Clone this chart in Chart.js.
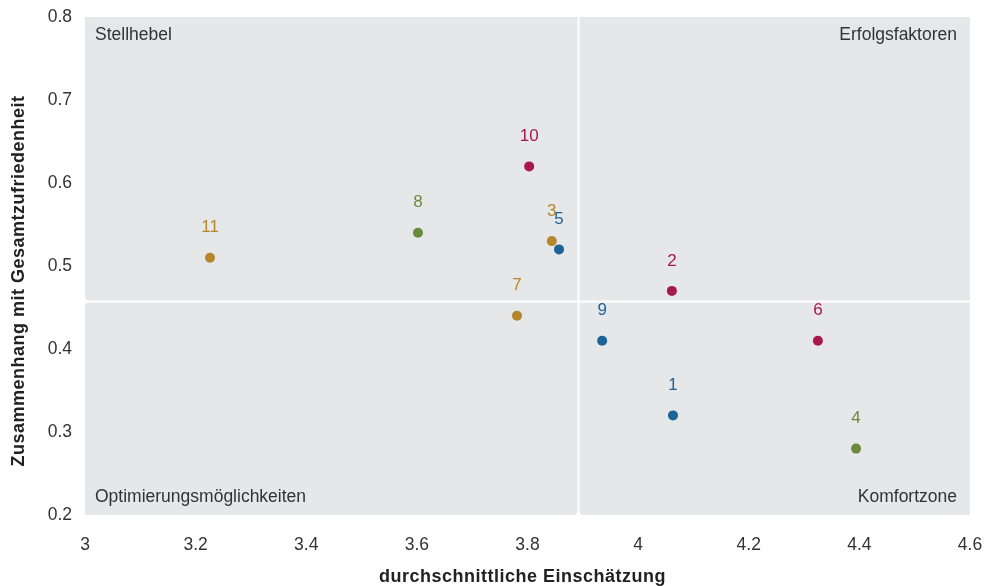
<!DOCTYPE html>
<html>
<head>
<meta charset="utf-8">
<script src="https://cdn.jsdelivr.net/npm/chart.js@4/dist/chart.umd.min.js"></script>
<style>
  html, body { margin: 0; padding: 0; background: #ffffff; }
  #wrap { width: 985px; height: 586px; }
</style>
</head>
<body>
<div id="wrap"><canvas id="c" width="985" height="586"></canvas></div>
<script>
// Factor ids, average rating (x) and correlation with overall satisfaction (y)
const ids     = ['1', '2', '3', '4', '5', '6', '7', '8', '9', '10', '11'];
const ratings = [4.063, 4.061, 3.844, 4.394, 3.857, 4.325, 3.781, 3.602, 3.935, 3.803, 3.226];
const impacts = [0.32, 0.47, 0.53, 0.28, 0.52, 0.41, 0.44, 0.54, 0.41, 0.62, 0.51];
const groups  = ['blue', 'red', 'gold', 'green', 'blue', 'red', 'gold', 'green', 'blue', 'red', 'gold'];

// Quadrant dividers (averages of both dimensions)
const meanRating = 3.891;
const meanImpact = 0.458;

const xTicks = [3, 3.2, 3.4, 3.6, 3.8, 4, 4.2, 4.4, 4.6];
const yTicks = [0.2, 0.3, 0.4, 0.5, 0.6, 0.7, 0.8];

const quadrantNames = ['Stellhebel', 'Erfolgsfaktoren', 'Optimierungsmöglichkeiten', 'Komfortzone'];
const xTitle = 'durchschnittliche Einschätzung';
const yTitle = 'Zusammenhang mit Gesamtzufriedenheit';

const palette = { blue: '#1c6398', red: '#a6194a', gold: '#b5862a', green: '#6a8b3c' };
const pointColors = groups.map(g => palette[g]);

const FONT = '"Liberation Sans", Arial, sans-serif';

// Plot background, quadrant dividers and quadrant captions
const quadrantPlugin = {
  id: 'quadrants',
  beforeDatasetsDraw(chart) {
    const { ctx, chartArea: a, scales: { x, y } } = chart;
    ctx.save();
    ctx.fillStyle = '#e6e7e9';
    ctx.fillRect(a.left, a.top, a.right - a.left, a.bottom - a.top);

    const vx = Math.round(x.getPixelForValue(meanRating)) + 0.5;
    const hy = Math.round(y.getPixelForValue(meanImpact)) + 0.5;
    ctx.strokeStyle = '#ffffff';
    ctx.lineWidth = 2;
    ctx.beginPath();
    ctx.moveTo(vx, a.top); ctx.lineTo(vx, a.bottom);
    ctx.moveTo(a.left, hy); ctx.lineTo(a.right, hy);
    ctx.stroke();

    // small notches where the dividers meet the axes
    ctx.fillStyle = '#ffffff';
    ctx.beginPath();
    ctx.moveTo(a.left - 1, hy - 4); ctx.lineTo(a.left + 4, hy); ctx.lineTo(a.left - 1, hy + 4);
    ctx.closePath(); ctx.fill();
    ctx.beginPath();
    ctx.moveTo(vx - 4, a.bottom + 1); ctx.lineTo(vx, a.bottom - 4); ctx.lineTo(vx + 4, a.bottom + 1);
    ctx.closePath(); ctx.fill();

    ctx.fillStyle = '#333333';
    ctx.font = '17.5px ' + FONT;
    ctx.textBaseline = 'middle';
    ctx.textAlign = 'left';
    ctx.fillText(quadrantNames[0], a.left + 10, a.top + 18);
    ctx.fillText(quadrantNames[2], a.left + 10, a.bottom - 18);
    ctx.textAlign = 'right';
    ctx.fillText(quadrantNames[1], a.right - 13, a.top + 18);
    ctx.fillText(quadrantNames[3], a.right - 13, a.bottom - 18);
    ctx.restore();
  }
};

// Id labels above each point
const idLabelPlugin = {
  id: 'idLabels',
  afterDatasetsDraw(chart) {
    const { ctx } = chart;
    const meta = chart.getDatasetMeta(0);
    ctx.save();
    ctx.font = '17px ' + FONT;
    ctx.textAlign = 'center';
    ctx.textBaseline = 'middle';
    meta.data.forEach((pt, i) => {
      ctx.fillStyle = pointColors[i];
      ctx.fillText(ids[i], pt.x, pt.y - 30);
    });
    ctx.restore();
  }
};

// Axis titles, drawn with a little letter spacing
const axisTitlePlugin = {
  id: 'axisTitles',
  afterDraw(chart) {
    const { ctx, chartArea: a } = chart;
    ctx.save();
    ctx.font = 'bold 18px ' + FONT;
    ctx.fillStyle = '#222222';
    ctx.textAlign = 'center';
    ctx.textBaseline = 'middle';
    if ('letterSpacing' in ctx) ctx.letterSpacing = '0.5px';
    ctx.fillText(xTitle, (a.left + a.right) / 2 - 5, 577);
    ctx.translate(19, (a.top + a.bottom) / 2 + 15);
    ctx.rotate(-Math.PI / 2);
    ctx.fillText(yTitle, 0, 0);
    ctx.restore();
  }
};

new Chart(document.getElementById('c'), {
  type: 'scatter',
  data: {
    datasets: [{
      data: ratings.map((v, i) => ({ x: v, y: impacts[i] })),
      pointBackgroundColor: pointColors,
      pointBorderColor: pointColors,
      pointRadius: 5,
      pointHoverRadius: 5,
      borderWidth: 0
    }]
  },
  options: {
    responsive: false,
    animation: false,
    layout: { padding: { top: 17, right: 15, left: 0, bottom: 0 } },
    plugins: { legend: { display: false }, tooltip: { enabled: false } },
    scales: {
      x: {
        type: 'linear',
        min: 3, max: 4.6,
        afterBuildTicks: s => { s.ticks = xTicks.map(v => ({ value: v })); },
        afterFit: s => { s.height = 71; s.paddingLeft = 0; s.paddingRight = 0; },
        grid: { display: false, drawTicks: false, tickLength: 0 },
        border: { display: false },
        ticks: {
          color: '#333333',
          font: { family: FONT, size: 17.5 },
          padding: 20,
          maxRotation: 0,
          callback: v => String(v)
        }
      },
      y: {
        type: 'linear',
        min: 0.2, max: 0.8,
        afterBuildTicks: s => { s.ticks = yTicks.map(v => ({ value: v })); },
        afterFit: s => { s.width = 85; s.paddingTop = 0; s.paddingBottom = 0; },
        grid: { display: false, drawTicks: false, tickLength: 0 },
        border: { display: false },
        ticks: {
          color: '#333333',
          font: { family: FONT, size: 17.5 },
          padding: 13,
          callback: v => String(v)
        }
      }
    }
  },
  plugins: [quadrantPlugin, idLabelPlugin, axisTitlePlugin]
});
</script>
</body>
</html>
